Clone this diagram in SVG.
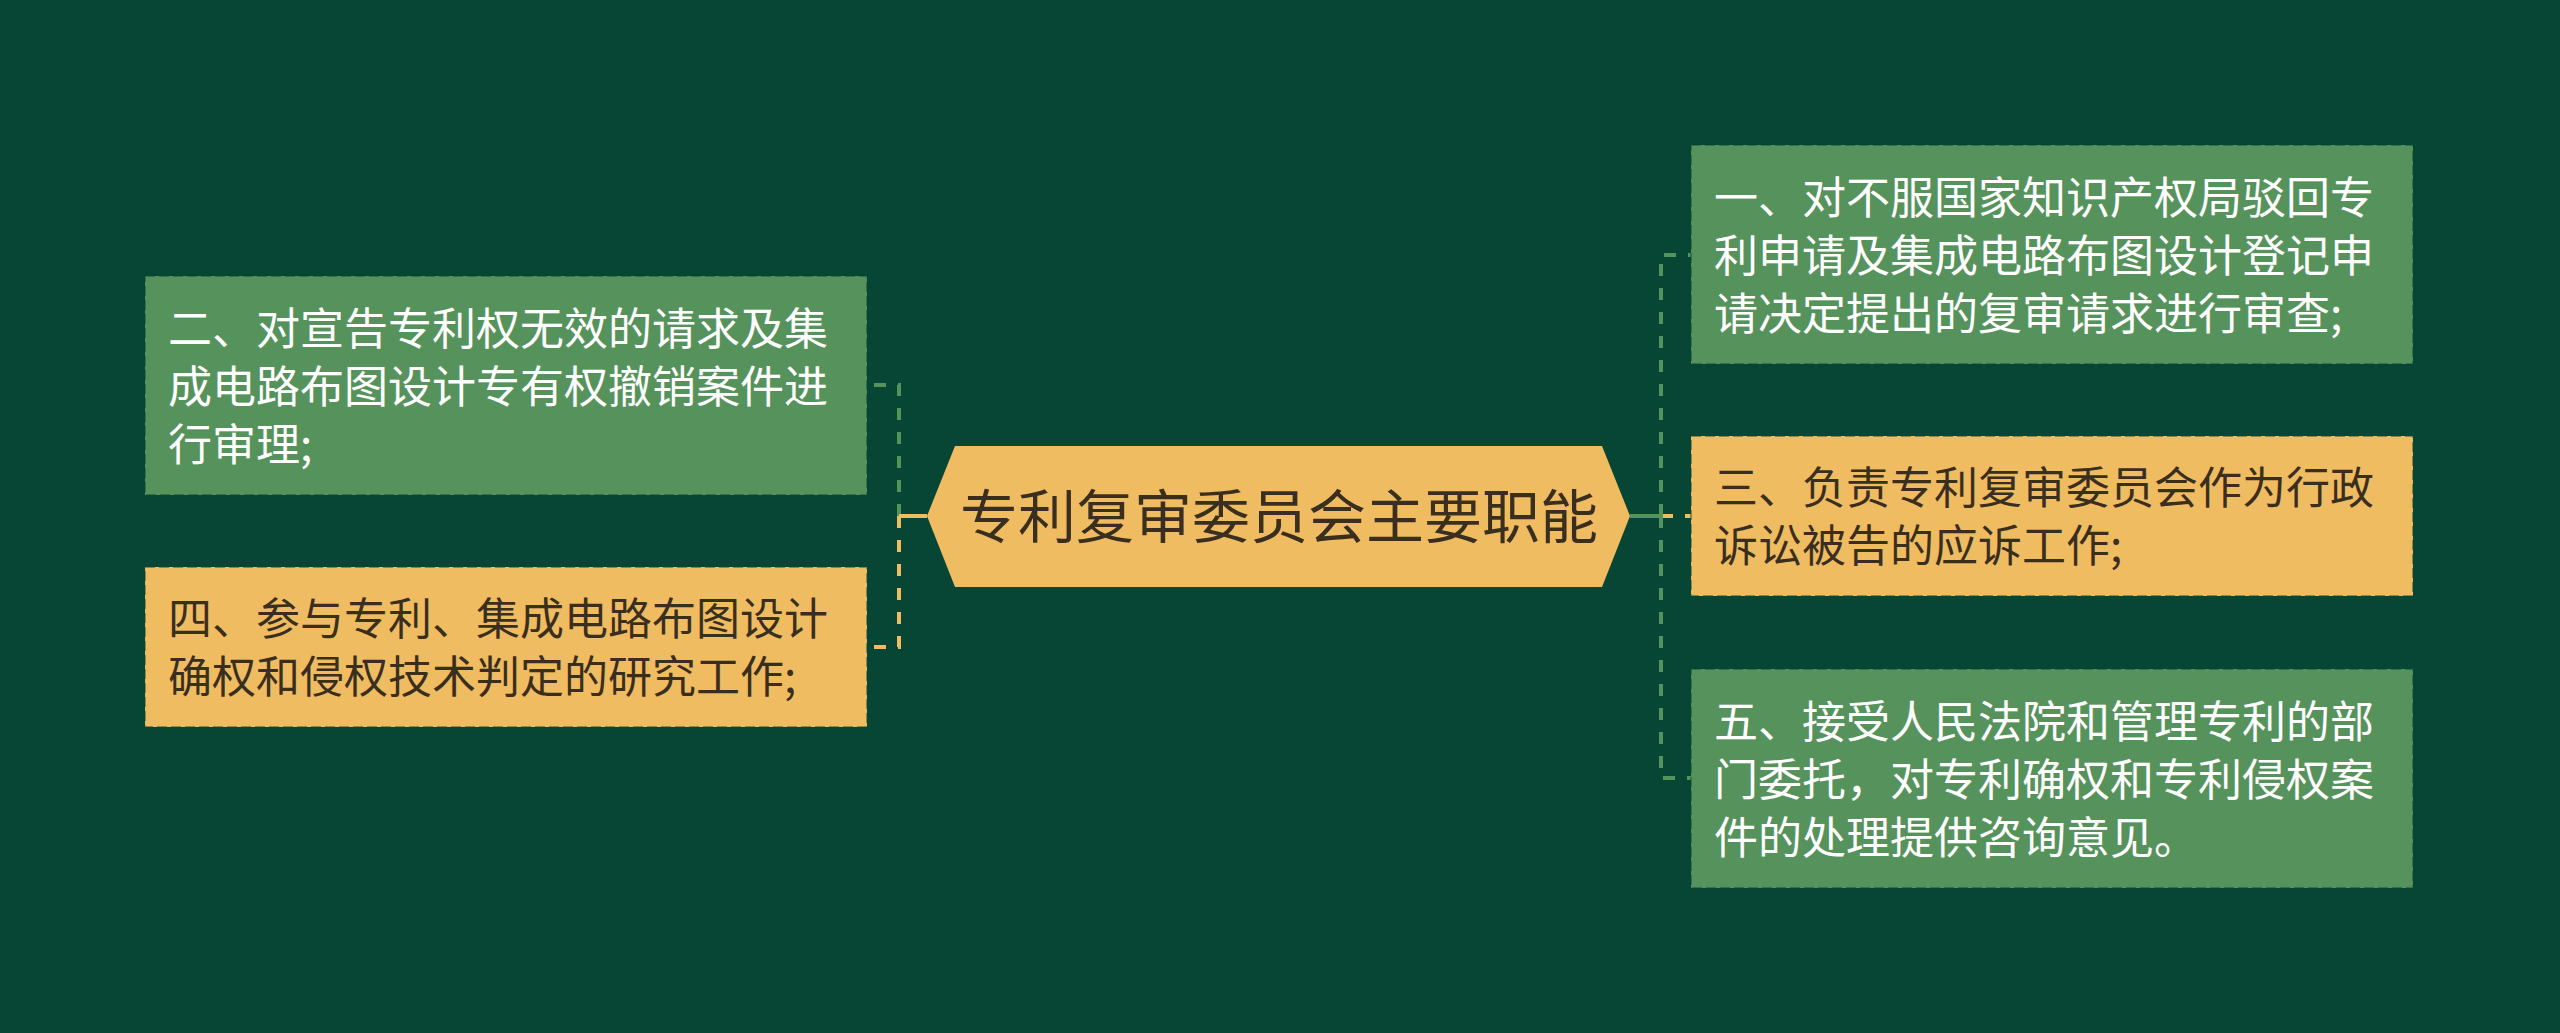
<svg xmlns="http://www.w3.org/2000/svg" width="2560" height="1033" viewBox="0 0 2560 1033">
<style>
.box{stroke:#074635;stroke-opacity:0.45;stroke-width:2;stroke-dasharray:10 4}
.g{fill:#56935c}
.o{fill:#f0bc62}
.t{font-family:"Noto Sans CJK SC","Noto Sans",sans-serif;font-size:44px}
.tw{fill:#ffffff}
.td{fill:#3a2f1f}
.stub{fill:none;stroke-width:4}
.dash{fill:none;stroke-width:4;stroke-dasharray:12 12}
.cg{stroke:#56935c}
.co{stroke:#f0bc62}
</style>
<rect x="0" y="0" width="2560" height="1033" fill="#074635"/>
<g id="connectors">
<path class="stub cg" d="M927,516 H899"/>
<path class="dash cg" d="M899,516 V385 H868"/>
<path class="stub co" d="M927,516 H899"/>
<path class="dash co" d="M899,516 V647 H868"/>
<path class="stub co" d="M1630,516 H1661"/>
<path class="dash co" d="M1661,516 H1691"/>
<path class="stub cg" d="M1630,516 H1661"/>
<path class="dash cg" d="M1661,516 V255 H1691"/>
<path class="dash cg" d="M1661,516 V778 H1691"/>
</g>
<g id="center">
<polygon points="927,516 955,446 1602,446 1630,516 1602,587 955,587" fill="#f0bc62"/>
<text x="1279" y="538" text-anchor="middle" font-family="Noto Sans CJK SC, Noto Sans, sans-serif" font-size="58" fill="#3a2f1f">专利复审委员会主要职能</text>
</g>
<g id="node-l1">
<rect class="box g" x="145" y="276" width="722" height="219"/>
<text class="t tw" x="168" y="344.5">二、对宣告专利权无效的请求及集</text>
<text class="t tw" x="168" y="402.5">成电路布图设计专有权撤销案件进</text>
<text class="t tw" x="168" y="460.5">行审理;</text>
</g>
<g id="node-l2">
<rect class="box o" x="145" y="567" width="722" height="160"/>
<text class="t td" x="168" y="635">四、参与专利、集成电路布图设计</text>
<text class="t td" x="168" y="693">确权和侵权技术判定的研究工作;</text>
</g>
<g id="node-r1">
<rect class="box g" x="1691" y="145" width="722" height="219"/>
<text class="t tw" x="1714" y="213.5">一、对不服国家知识产权局驳回专</text>
<text class="t tw" x="1714" y="271.5">利申请及集成电路布图设计登记申</text>
<text class="t tw" x="1714" y="329.5">请决定提出的复审请求进行审查;</text>
</g>
<g id="node-r2">
<rect class="box o" x="1691" y="436" width="722" height="160"/>
<text class="t td" x="1714" y="504">三、负责专利复审委员会作为行政</text>
<text class="t td" x="1714" y="562">诉讼被告的应诉工作;</text>
</g>
<g id="node-r3">
<rect class="box g" x="1691" y="669" width="722" height="219"/>
<text class="t tw" x="1714" y="737.5">五、接受人民法院和管理专利的部</text>
<text class="t tw" x="1714" y="795.5">门委托，对专利确权和专利侵权案</text>
<text class="t tw" x="1714" y="853.5">件的处理提供咨询意见。</text>
</g>
</svg>
